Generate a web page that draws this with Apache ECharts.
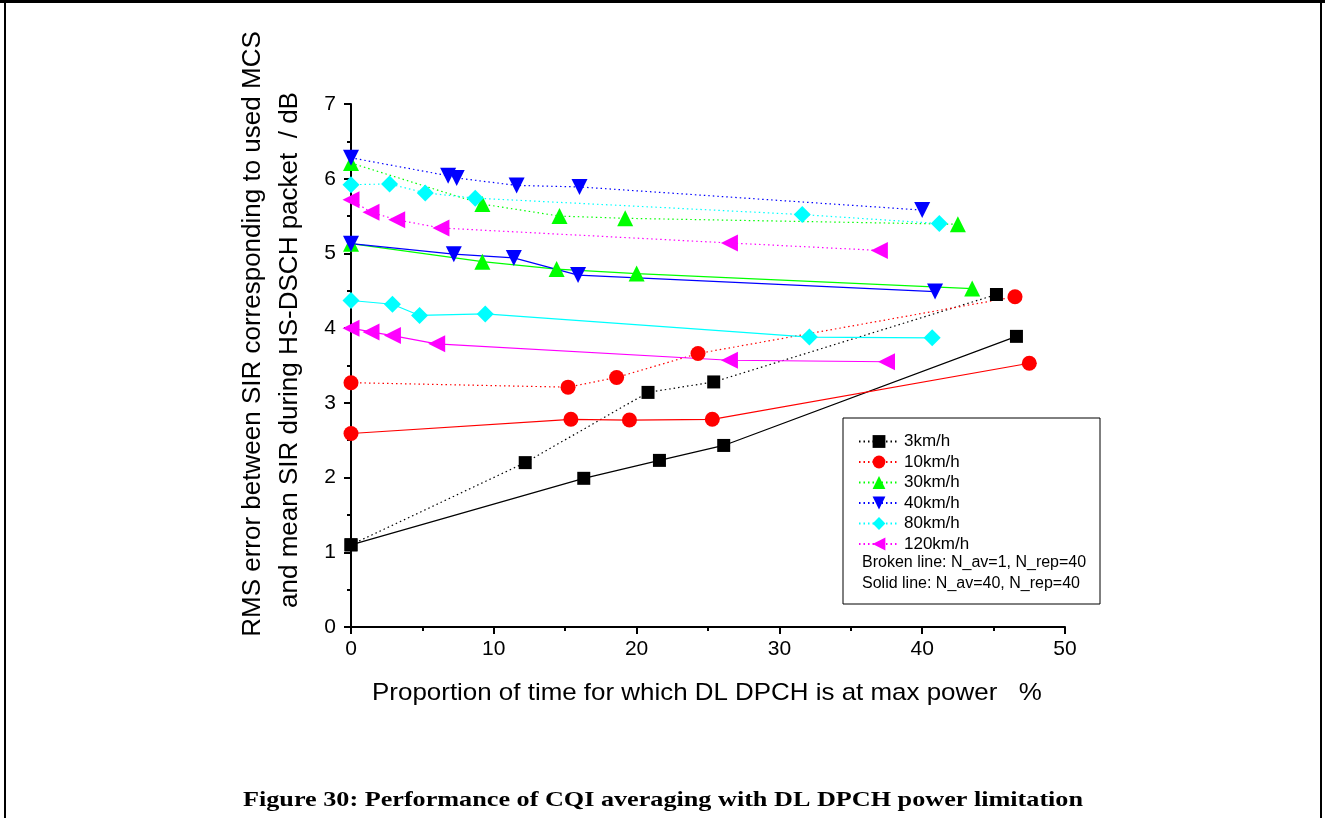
<!DOCTYPE html>
<html>
<head>
<meta charset="utf-8">
<script src="https://cdn.jsdelivr.net/npm/echarts@6/dist/echarts.min.js"></script>
<style>
html,body{margin:0;padding:0;background:#fff;}
#chart{width:1325px;height:818px;}
</style>
</head>
<body>
<div id="chart"></div>
<script>
// ---- data ----
const speeds = ['3km/h', '10km/h', '30km/h', '40km/h', '80km/h', '120km/h'];
const colors = ['#000000', '#ff0000', '#00ff00', '#0000ff', '#00ffff', '#ff00ff'];
const symbols = ['rect', 'circle', 'triangle', 'triangle', 'diamond', 'triangle'];
const symbolRot = [0, 0, 0, 180, 0, 90];
const symbolSizes = [13, 15, 16, 16, 17, 17];

// broken line: N_av=1, N_rep=40
const broken3 = [[0, 1.10], [12.2, 2.20], [20.8, 3.14], [25.4, 3.28], [45.2, 4.45]];
const broken10 = [[0, 3.27], [15.2, 3.21], [18.6, 3.34], [24.3, 3.66], [46.5, 4.42]];
const broken30 = [[0, 6.21], [9.2, 5.66], [14.6, 5.50], [19.2, 5.47], [42.5, 5.39]];
const broken40 = [[0, 6.28], [6.8, 6.04], [7.4, 6.01], [11.6, 5.91], [16.0, 5.89], [40.0, 5.58]];
const broken80 = [[0, 5.92], [2.7, 5.93], [5.2, 5.81], [8.7, 5.74], [31.6, 5.52], [41.2, 5.40]];
const broken120 = [[0, 5.72], [1.4, 5.55], [3.2, 5.45], [6.3, 5.34], [26.5, 5.14], [37.0, 5.04]];

// solid line: N_av=40, N_rep=40
const solid3 = [[0, 1.10], [16.3, 1.99], [21.6, 2.23], [26.1, 2.43], [46.6, 3.89]];
const solid10 = [[0, 2.59], [15.4, 2.78], [19.5, 2.77], [25.3, 2.78], [47.5, 3.53]];
const solid30 = [[0, 5.13], [9.2, 4.89], [14.4, 4.79], [20.0, 4.73], [43.5, 4.53]];
const solid40 = [[0, 5.13], [7.2, 4.99], [11.4, 4.94], [15.9, 4.71], [40.9, 4.49]];
const solid80 = [[0, 4.37], [2.9, 4.32], [4.8, 4.17], [9.4, 4.19], [32.1, 3.88], [40.7, 3.87]];
const solid120 = [[0, 4.00], [1.4, 3.95], [2.9, 3.90], [6.0, 3.79], [26.5, 3.57], [37.5, 3.55]];

const brokenData = [broken3, broken10, broken30, broken40, broken80, broken120];
const solidData = [solid3, solid10, solid30, solid40, solid80, solid120];

const xTicks = [0, 10, 20, 30, 40, 50];
const yTicks = [0, 1, 2, 3, 4, 5, 6, 7];

const xTitle = 'Proportion of time for which DL DPCH is at max power   %';
const yTitle1 = 'RMS error between SIR corresponding to used MCS';
const yTitle2 = 'and mean SIR during HS-DSCH packet  / dB';
const legendNote1 = 'Broken line: N_av=1, N_rep=40';
const legendNote2 = 'Solid line: N_av=40, N_rep=40';
const caption = 'Figure 30: Performance of CQI averaging with DL DPCH power limitation';

// ---- chart ----
const chart = echarts.init(document.getElementById('chart'), null, {renderer: 'canvas'});
const font = 'Liberation Sans, Arial, sans-serif';

const series = [];
speeds.forEach((s, i) => {
  series.push({
    name: s, type: 'line', data: brokenData[i],
    symbol: symbols[i], symbolRotate: symbolRot[i], symbolSize: symbolSizes[i],
    itemStyle: {color: colors[i]},
    lineStyle: {color: colors[i], width: 1.2, type: [1.5, 3]},
    showAllSymbol: true, animation: false, z: 3
  });
});
speeds.forEach((s, i) => {
  series.push({
    name: s + ' (solid)', type: 'line', data: solidData[i],
    symbol: symbols[i], symbolRotate: symbolRot[i], symbolSize: symbolSizes[i],
    itemStyle: {color: colors[i]},
    lineStyle: {color: colors[i], width: 1.2, type: 'solid'},
    showAllSymbol: true, animation: false, z: 3
  });
});

const axisCommon = {
  axisLine: {show: true, onZero: false, lineStyle: {color: '#000', width: 2}},
  axisTick: {show: true, inside: false, length: 7, lineStyle: {color: '#000', width: 2}},
  minorTick: {show: true, splitNumber: 2, length: 4, lineStyle: {color: '#000', width: 2}},
  splitLine: {show: false},
  axisLabel: {color: '#000', fontFamily: font, fontSize: 21}
};

chart.setOption({
  backgroundColor: '#fff',
  animation: false,
  grid: {left: 351, right: 260, top: 104, bottom: 191, containLabel: false},
  xAxis: Object.assign({}, axisCommon, {
    type: 'value', min: xTicks[0], max: xTicks[xTicks.length - 1], interval: 10,
    axisLabel: Object.assign({}, axisCommon.axisLabel, {margin: 12})
  }),
  yAxis: Object.assign({}, axisCommon, {
    type: 'value', min: yTicks[0], max: yTicks[yTicks.length - 1], interval: 1,
    axisLabel: Object.assign({}, axisCommon.axisLabel, {margin: 15})
  }),
  legend: {
    data: speeds, orient: 'vertical', left: 853, top: 428,
    itemWidth: 40, itemHeight: 16, itemGap: 3.5,
    textStyle: {color: '#000', fontFamily: font, fontSize: 17, lineHeight: 16},
    selectedMode: false
  },
  graphic: [
    // outer frame
    {type: 'rect', shape: {x: 0, y: 0, width: 1325, height: 3}, style: {fill: '#000'}, silent: true},
    {type: 'rect', shape: {x: 4, y: 0, width: 2, height: 818}, style: {fill: '#000'}, silent: true},
    {type: 'rect', shape: {x: 1320, y: 0, width: 2, height: 818}, style: {fill: '#000'}, silent: true},
    // axis titles
    {type: 'text', x: 707, y: 693, scaleX: 1.08,
      style: {text: xTitle, fill: '#000', font: '24px ' + font, textAlign: 'center', textVerticalAlign: 'middle'}, silent: true},
    {type: 'text', x: 253, y: 334, rotation: Math.PI / 2,
      style: {text: yTitle1, fill: '#000', font: '26px ' + font, textAlign: 'center', textVerticalAlign: 'middle'}, silent: true},
    {type: 'text', x: 290, y: 350, rotation: Math.PI / 2,
      style: {text: yTitle2, fill: '#000', font: '26px ' + font, textAlign: 'center', textVerticalAlign: 'middle'}, silent: true},
    // legend box
    {type: 'rect', shape: {x: 843, y: 418, width: 257, height: 186},
      style: {fill: 'none', stroke: '#000', lineWidth: 1}, silent: true, z: 1},
    {type: 'text', x: 862, y: 563,
      style: {text: legendNote1, fill: '#000', font: '16px ' + font, textVerticalAlign: 'middle'}, silent: true},
    {type: 'text', x: 862, y: 584,
      style: {text: legendNote2, fill: '#000', font: '16px ' + font, textVerticalAlign: 'middle'}, silent: true},
    // caption
    {type: 'text', x: 663, y: 800, scaleX: 1.19,
      style: {text: caption, fill: '#000', font: 'bold 22px "Liberation Serif", "Times New Roman", serif',
        textAlign: 'center', textVerticalAlign: 'middle'}, silent: true}
  ],
  series: series
});
</script>
</body>
</html>
